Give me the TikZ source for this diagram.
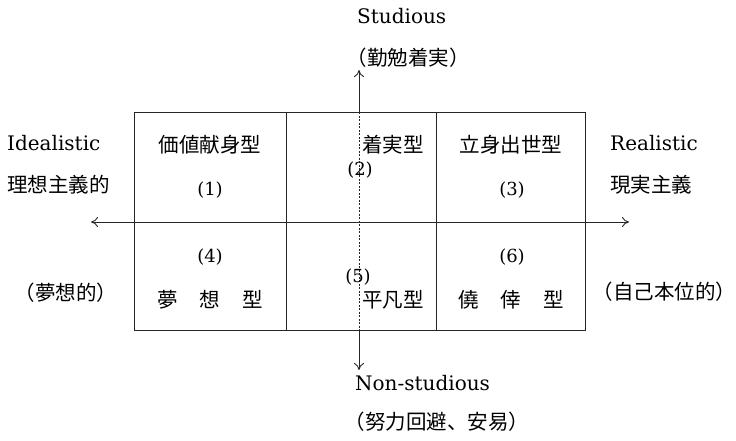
\documentclass[tikz,border=0pt]{standalone}
\usepackage{fontspec}
\setmainfont{DejaVu Serif}
\newfontfamily\cjk{Noto Sans CJK JP}
\usetikzlibrary{arrows.meta}
\newcommand\myLP{\kern-.5em（}
\newcommand\myRP{）\kern-.5em}
\begin{document}
\begin{tikzpicture}[x=1pt,y=-1pt,
  ln/.style={line width=0.9pt, draw=black!85},
  arr/.style={ln, -{To[length=7pt,width=10pt]}},
  lat/.style={inner sep=0pt, font=\fontsize{20}{24}\selectfont},
  jp/.style={inner sep=0pt, font=\cjk\fontsize{20.5}{24}\selectfont},
  num/.style={inner sep=0pt, font=\fontsize{18}{21}\selectfont}]
\useasboundingbox (0,0) rectangle (736,440);
% box
\coordinate (tl) at (134,112);
\coordinate (br) at (585,330);
\draw[ln] (tl) rectangle (br);
\coordinate (ml) at (134,222);
\coordinate (mr) at (585,222);
\draw[ln] (ml) -- (mr);
\coordinate (v1t) at (286,112); \coordinate (v1b) at (286,330);
\coordinate (v2t) at (436,112); \coordinate (v2b) at (436,330);
\draw[ln] (v1t) -- (v1b);
\draw[ln] (v2t) -- (v2b);
\coordinate (dt) at (359,112); \coordinate (db) at (359,330);
\draw[ln, dash pattern=on 2pt off 1.5pt] (dt) -- (db);
% axis arrows
\coordinate (up) at (359,70);
\coordinate (down) at (359,370);
\coordinate (left) at (91,222);
\coordinate (right) at (629,222);
\draw[arr] (dt) -- (up);
\draw[arr] (db) -- (down);
\draw[arr] (ml) -- (left);
\draw[arr] (mr) -- (right);
% axis labels
\node[lat, anchor=west] (stud) at (357,16) {Studious};
\node[jp, anchor=west] (studj) at (357,58) {\myLP 勤勉着実\myRP};
\node[lat, anchor=west] (nstud) at (355,383) {Non-studious};
\node[jp, anchor=west] (nstudj) at (355,422) {\myLP 努力回避、安易\myRP};
\node[lat, anchor=west] (ideal) at (7,143) {Idealistic};
\node[jp, anchor=west] (idealj) at (7,185) {理想主義的};
\node[jp, anchor=west] (idealk) at (25,293) {\myLP 夢想的\myRP};
\node[lat, anchor=west] (real) at (610,143) {Realistic};
\node[jp, anchor=west] (realj) at (610,185) {現実主義};
\node[jp, anchor=west] (realk) at (603,292) {\myLP 自己本位的\myRP};
% cells
\node[jp] (c1) at (210,145) {価値献身型};
\node[num] (n1) at (210,190) {(1)};
\node[jp] (c2) at (393,145) {着実型};
\node[num] (n2) at (360,170) {(2)};
\node[jp] (c3) at (511,145) {立身出世型};
\node[num] (n3) at (512,190) {(3)};
\node[num] (n4) at (210,257) {(4)};
\node[jp] (c4) at (210,300) {夢\hspace{22pt}想\hspace{22pt}型};
\node[num] (n5) at (358,277) {(5)};
\node[jp] (c5) at (393,300) {平凡型};
\node[num] (n6) at (512,257) {(6)};
\node[jp] (c6) at (511,300) {僥\hspace{22pt}倖\hspace{22pt}型};
\end{tikzpicture}
\end{document}
